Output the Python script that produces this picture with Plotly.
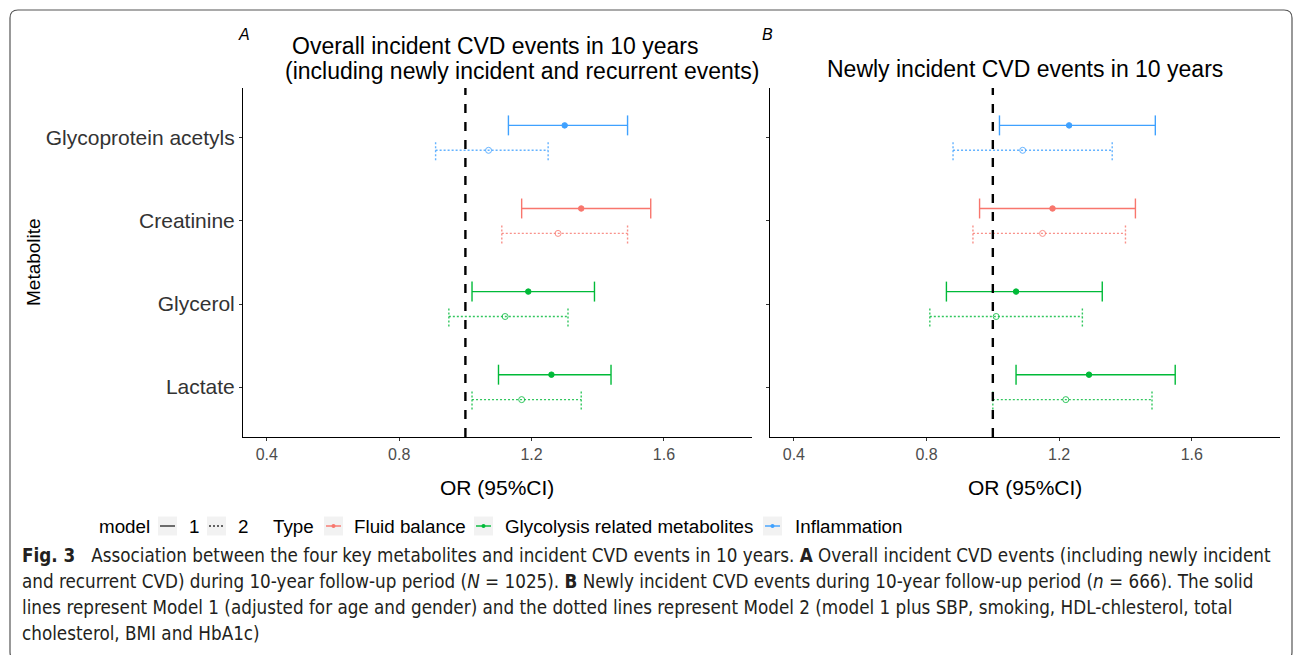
import plotly.graph_objects as go

# ---------------- data ----------------
metabolites = ["Lactate", "Glycerol", "Creatinine", "Glycoprotein acetyls"]
met_types = ["Glycolysis related metabolites", "Glycolysis related metabolites",
             "Fluid balance", "Inflammation"]
type_order = ["Fluid balance", "Glycolysis related metabolites", "Inflammation"]
type_colors = {"Fluid balance": "#F8766D",
               "Glycolysis related metabolites": "#00BA38",
               "Inflammation": "#3FA1FF"}

# Panel A: overall incident CVD events
a_m1_or = [1.26, 1.19, 1.35, 1.30]
a_m1_lo = [1.10, 1.02, 1.17, 1.13]
a_m1_hi = [1.44, 1.39, 1.56, 1.49]
a_m2_or = [1.17, 1.12, 1.28, 1.07]
a_m2_lo = [1.02, 0.95, 1.11, 0.91]
a_m2_hi = [1.35, 1.31, 1.49, 1.25]

# Panel B: newly incident CVD events
b_m1_or = [1.29, 1.07, 1.18, 1.23]
b_m1_lo = [1.07, 0.86, 0.96, 1.02]
b_m1_hi = [1.55, 1.33, 1.43, 1.49]
b_m2_or = [1.22, 1.01, 1.15, 1.09]
b_m2_lo = [1.00, 0.81, 0.94, 0.88]
b_m2_hi = [1.48, 1.27, 1.40, 1.36]

x_ticks = [0.4, 0.8, 1.2, 1.6]
ref_or = 1.0

# ---------------- layout helpers ----------------
W, H = 1295, 655
def px(x):
    return x / W
def py(y):
    return 1 - y / H

FONT = "Liberation Sans, Arial, sans-serif"
CAP_FONT = "DejaVu Sans Condensed, Liberation Sans Narrow, Arial Narrow, sans-serif"
DODGE = 0.15
CAP = 0.12

fig = go.Figure()

panels = [
    ("x", "y", (a_m1_or, a_m1_lo, a_m1_hi), (a_m2_or, a_m2_lo, a_m2_hi)),
    ("x2", "y2", (b_m1_or, b_m1_lo, b_m1_hi), (b_m2_or, b_m2_lo, b_m2_hi)),
]

for xa, ya, m1, m2 in panels:
    for model, (ors, los, his), off, dash, sym, op in [
        (1, m1, DODGE, "solid", "circle", 1.0),
        (2, m2, -DODGE, "2px,2px", "circle-open", 0.8),
    ]:
        for t in type_order:
            lx, ly, cx, cy, mx, my = [], [], [], [], [], []
            for i, m in enumerate(metabolites):
                if met_types[i] != t:
                    continue
                yc = i + 1 + off
                lx += [los[i], his[i], None]
                ly += [yc, yc, None]
                cx += [los[i], los[i], None, his[i], his[i], None]
                cy += [yc - CAP, yc + CAP, None, yc - CAP, yc + CAP, None]
                mx.append(ors[i])
                my.append(yc)
            col = type_colors[t]
            fig.add_trace(go.Scatter(x=lx, y=ly, mode="lines", xaxis=xa, yaxis=ya,
                                     line=dict(color=col, width=1.4, dash=dash),
                                     opacity=op, showlegend=False, hoverinfo="skip"))
            fig.add_trace(go.Scatter(x=cx, y=cy, mode="lines", xaxis=xa, yaxis=ya,
                                     line=dict(color=col, width=1.4, dash=dash),
                                     opacity=op, showlegend=False, hoverinfo="skip"))
            fig.add_trace(go.Scatter(x=mx, y=my, mode="markers", xaxis=xa, yaxis=ya,
                                     marker=dict(color=col, size=5.5 if model == 1 else 6,
                                                 symbol=sym, line=dict(color=col, width=1)),
                                     opacity=op, showlegend=False))

# reference lines at OR = 1
for xa in ["x", "x2"]:
    yref = "y domain" if xa == "x" else "y2 domain"
    fig.add_shape(type="line", xref=xa, yref=yref, x0=ref_or, x1=ref_or, y0=0, y1=1,
                  line=dict(color="black", width=2.4, dash="9px,9px"))

xr = [0.328, 1.866]
axis_common = dict(showline=True, linecolor="black", linewidth=1, showgrid=False,
                   zeroline=False, ticks="outside", ticklen=3, tickcolor="#333",
                   mirror=False)
fig.update_layout(
    width=W, height=H,
    margin=dict(l=0, r=0, t=0, b=0),
    paper_bgcolor="white", plot_bgcolor="white",
    font=dict(family=FONT, color="black"),
    showlegend=False,
    xaxis=dict(domain=[px(243), px(752)], range=xr, tickvals=x_ticks,
               ticktext=[str(v) for v in x_ticks], anchor="y",
               tickfont=dict(size=16, color="#4D4D4D"), **axis_common),
    xaxis2=dict(domain=[px(770), px(1280)], range=xr, tickvals=x_ticks,
                ticktext=[str(v) for v in x_ticks], anchor="y2",
                tickfont=dict(size=16, color="#4D4D4D"), **axis_common),
    yaxis=dict(domain=[py(437), py(88)], range=[0.4, 4.6], tickvals=[1, 2, 3, 4],
               ticktext=metabolites, anchor="x",
               tickfont=dict(size=21, color="#333333"), **axis_common),
    yaxis2=dict(domain=[py(437), py(88)], range=[0.4, 4.6], tickvals=[1, 2, 3, 4],
                showticklabels=False, anchor="x2", **axis_common),
)

ann = []
def text(x, y, s, size, xanchor="center", color="black", family=FONT, angle=0):
    ann.append(dict(x=px(x), y=py(y), xref="paper", yref="paper", text=s,
                    showarrow=False, xanchor=xanchor, yanchor="middle", textangle=angle,
                    font=dict(size=size, color=color, family=family)))

# titles and tags
text(495, 46, "Overall incident CVD events in 10 years", 23)
text(522, 71, "(including newly incident and recurrent events)", 23)
text(1025, 69, "Newly incident CVD events in 10 years", 23)
text(244, 34, "<i>A</i>", 16)
text(767, 34, "<i>B</i>", 16)
# axis titles
text(497, 487, "OR (95%CI)", 21)
text(1025, 487, "OR (95%CI)", 21)
text(33, 262, "Metabolite", 19, angle=-90)

# legend
LY = 526
text(97, LY, "model", 18.8, xanchor="left")
text(187, LY, "1", 18.8, xanchor="left")
text(236, LY, "2", 18.8, xanchor="left")
text(271, LY, "Type", 18.8, xanchor="left")
text(352, LY, "Fluid balance", 18.8, xanchor="left")
text(503, LY, "Glycolysis related metabolites", 18.8, xanchor="left")
text(793, LY, "Inflammation", 18.8, xanchor="left")

shapes = []
def rect(x0, x1, y0, y1, fill):
    shapes.append(dict(type="rect", xref="paper", yref="paper", x0=px(x0), x1=px(x1),
                       y0=py(y1), y1=py(y0), fillcolor=fill, line=dict(width=0)))
def seg(x0, x1, y0, y1, color, width=1.4, dash="solid"):
    shapes.append(dict(type="line", xref="paper", yref="paper", x0=px(x0), x1=px(x1),
                       y0=py(y0), y1=py(y1), line=dict(color=color, width=width, dash=dash)))

key_boxes = [(158, "#333333", "solid", False), (207, "#333333", "2px,2px", False),
             (324, type_colors["Fluid balance"], "solid", True),
             (474, type_colors["Glycolysis related metabolites"], "solid", True),
             (763, type_colors["Inflammation"], "solid", True)]
for x0, col, dash, dot in key_boxes:
    rect(x0, x0 + 19, LY - 9.5, LY + 9.5, "#F2F2F2")
    seg(x0 + 2, x0 + 17, LY, LY, col, 1.4, dash)
    if dot:
        shapes.append(dict(type="circle", xref="paper", yref="paper",
                           x0=px(x0 + 7.5), x1=px(x0 + 11.5), y0=py(LY + 2), y1=py(LY - 2),
                           fillcolor=col, line=dict(width=0)))

# caption
CY = [555, 581, 607, 633]
cap_lines = [
    "<b>Fig. 3</b>   Association between the four key metabolites and incident CVD events in 10 years. <b>A</b> Overall incident CVD events (including newly incident",
    "and recurrent CVD) during 10-year follow-up period (<i>N</i> = 1025). <b>B</b> Newly incident CVD events during 10-year follow-up period (<i>n</i> = 666). The solid",
    "lines represent Model 1 (adjusted for age and gender) and the dotted lines represent Model 2 (model 1 plus SBP, smoking, HDL-chlesterol, total",
    "cholesterol, BMI and HbA1c)",
]
for y, s in zip(CY, cap_lines):
    text(20, y, s, 18.7, xanchor="left", color="#231F20", family=CAP_FONT)

# rounded frame
r = 8
L, T, R, B = 10, 10, 1292, 660
path = (f"M {px(L)},{py(T + r)} Q {px(L)},{py(T)} {px(L + r)},{py(T)} "
        f"L {px(R - r)},{py(T)} Q {px(R)},{py(T)} {px(R)},{py(T + r)} "
        f"L {px(R)},{py(B - r)} Q {px(R)},{py(B)} {px(R - r)},{py(B)} "
        f"L {px(L + r)},{py(B)} Q {px(L)},{py(B)} {px(L)},{py(B - r)} Z")
shapes.append(dict(type="path", xref="paper", yref="paper", path=path,
                   line=dict(color="#555555", width=1.2)))

fig.update_layout(annotations=ann, shapes=list(fig.layout.shapes) + shapes)

fig.write_html("out.html")
